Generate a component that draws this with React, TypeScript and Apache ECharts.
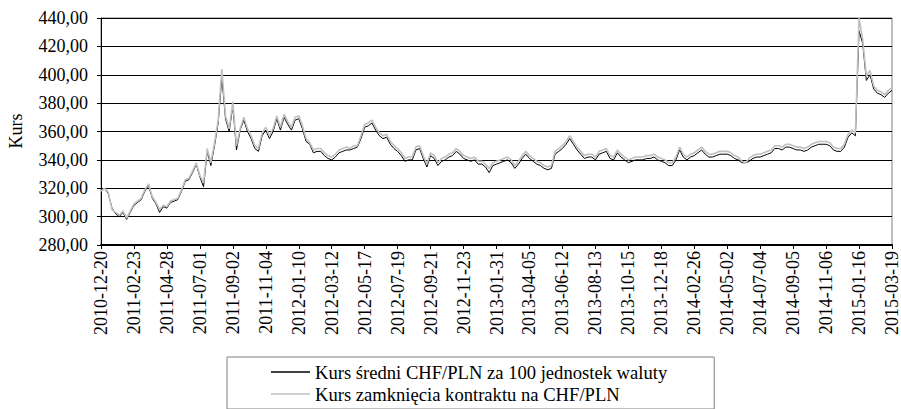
import React, { useEffect, useRef } from "react";
import * as echarts from "echarts";

const tickLabels: string[] = [
  "2010-12-20", "2011-02-23", "2011-04-28", "2011-07-01", "2011-09-02",
  "2011-11-04", "2012-01-10", "2012-03-12", "2012-05-17", "2012-07-19",
  "2012-09-21", "2012-11-23", "2013-01-31", "2013-04-05", "2013-06-12",
  "2013-08-13", "2013-10-15", "2013-12-18", "2014-02-26", "2014-05-02",
  "2014-07-04", "2014-09-05", "2014-11-06", "2015-01-16", "2015-03-19",
];

// weekly readings (9 per labelled interval)
const kursSredni: number[] = [
  317.5, 320, 316, 306, 302, 300, 303, 298, 303,
  308, 310, 312, 318, 322, 313, 309, 303, 307,
  306, 310, 311, 312, 318, 325, 326, 331, 337,
  328, 321, 346, 336, 350, 366, 398, 369, 360,
  378, 347, 361, 368, 360, 355, 348, 346, 357,
  361, 355, 360, 369, 361, 370, 365, 361, 368,
  369, 362, 353, 351, 345, 346, 346, 343, 341,
  340, 342, 345, 346, 347, 347, 348, 349, 355,
  363, 364, 366, 361, 357, 355, 356, 351, 348,
  346, 343, 339, 340, 340, 347, 348, 341, 335,
  343, 341, 336, 339, 340, 342, 343, 346, 344,
  341, 340, 339, 340, 337, 337, 335, 331, 336,
  337, 338, 339, 340, 338, 334, 337, 341, 344,
  341, 339, 337, 336, 334, 333, 334, 344, 346,
  348, 351, 355, 351, 347, 344, 341, 342, 342,
  340, 344, 345, 346, 341, 340, 345, 342, 340,
  338, 339, 340, 340, 340, 341, 341, 342, 340,
  339, 338, 336, 336, 340, 347, 342, 340, 342,
  343, 345, 347, 344, 342, 342, 343, 344, 344,
  344, 343, 341, 340, 338, 338, 339, 341, 342,
  342, 343, 344, 345, 348, 348, 347, 349, 349,
  348, 347, 347, 346, 347, 349, 350, 351, 351,
  351, 350, 347, 346, 346, 349, 356, 359, 357,
  431, 422, 396, 400, 390, 387, 386, 384, 387,
  389,
];

const kursZamkniecia: number[] = [
  318, 320, 317, 305, 303, 301, 304, 299, 304,
  309, 311, 313, 319, 323, 314, 310, 305, 308,
  307, 311, 312, 313, 319, 326, 327, 332, 338,
  329, 324, 348, 338, 352, 368, 404, 371, 362,
  381, 350, 362, 370, 362, 357, 350, 348, 359,
  363, 357, 362, 371, 363, 372, 367, 363, 370,
  371, 364, 355, 352, 347, 348, 348, 345, 343,
  342, 344, 347, 348, 349, 348, 350, 350, 357,
  365, 366, 368, 363, 359, 357, 358, 353, 350,
  348, 345, 341, 342, 342, 349, 350, 343, 337,
  345, 343, 338, 341, 342, 344, 345, 348, 346,
  343, 342, 341, 342, 339, 339, 337, 334, 338,
  339, 340, 341, 342, 340, 336, 339, 343, 346,
  343, 341, 339, 338, 336, 335, 336, 346, 348,
  350, 353, 357, 353, 349, 346, 343, 344, 344,
  342, 346, 347, 348, 343, 342, 347, 344, 342,
  340, 341, 342, 342, 342, 343, 343, 344, 342,
  341, 340, 338, 338, 342, 349, 344, 342, 344,
  345, 347, 349, 346, 344, 344, 345, 346, 346,
  346, 345, 343, 342, 339, 338, 341, 343, 344,
  344, 345, 346, 347, 350, 350, 349, 351, 351,
  350, 349, 349, 348, 349, 351, 352, 353, 353,
  353, 352, 349, 348, 348, 351, 358, 361, 359,
  440, 425, 399, 403, 392, 389, 388, 386, 389,
  391,
];

const seriesNames = [
  "Kurs średni CHF/PLN za 100 jednostek waluty",
  "Kurs zamknięcia kontraktu na CHF/PLN",
];

const PER_TICK = 9;
const FONT = '"Liberation Serif", "Times New Roman", serif';

export default function App() {
  const ref = useRef<HTMLDivElement>(null);

  useEffect(() => {
    if (!ref.current) return;
    const chart = echarts.init(ref.current, undefined, { renderer: "svg" });

    const categories: string[] = [];
    kursSredni.forEach((_, i) => {
      const t = Math.floor(i / PER_TICK);
      const k = i % PER_TICK;
      categories.push(k === 0 ? tickLabels[t] : `${tickLabels[t]} +${k}`);
    });

    chart.setOption({
      animation: false,
      backgroundColor: "#ffffff",
      textStyle: { fontFamily: FONT },
      grid: {
        left: 101,
        right: 7,
        top: 18,
        bottom: 164,
        show: true,
        borderColor: "#808080",
        borderWidth: 1,
        backgroundColor: "transparent",
      },
      xAxis: {
        type: "category",
        data: categories,
        boundaryGap: false,
        axisLine: { show: true, lineStyle: { color: "#000", width: 2 } },
        axisTick: { show: true, interval: PER_TICK - 1, length: 4, lineStyle: { color: "#000" } },
        axisLabel: {
          interval: PER_TICK - 1,
          rotate: 90,
          margin: 6,
          fontFamily: FONT,
          fontSize: 18,
          color: "#000",
          formatter: (v: string) => v.split(" ")[0],
        },
        splitLine: { show: false },
      },
      yAxis: {
        type: "value",
        min: 280,
        max: 440,
        interval: 20,
        axisLine: { show: true, lineStyle: { color: "#000", width: 1 } },
        axisTick: { show: true, length: 4, lineStyle: { color: "#000" } },
        axisLabel: {
          margin: 13,
          fontFamily: FONT,
          fontSize: 18,
          color: "#000",
          formatter: (v: number) => v.toFixed(2).replace(".", ","),
        },
        splitLine: { show: true, lineStyle: { color: "#000", width: 1 } },
      },
      legend: {
        orient: "vertical",
        left: 227,
        top: 357,
        padding: [5, 47, 5, 44],
        itemGap: 2,
        itemWidth: 39,
        itemHeight: 1.6,
        icon: "rect",
        borderColor: "#808080",
        borderWidth: 1,
        backgroundColor: "#fff",
        textStyle: { fontFamily: FONT, fontSize: 18.6, color: "#000", lineHeight: 20 },
        data: seriesNames,
      },
      graphic: [
        {
          type: "text",
          x: 16,
          y: 131,
          rotation: Math.PI / 2,
          style: {
            text: "Kurs",
            fontFamily: FONT,
            fontSize: 18,
            fill: "#000",
            align: "center",
            verticalAlign: "middle",
          },
        },
      ],
      series: [
        {
          name: seriesNames[0],
          type: "line",
          data: kursSredni,
          symbol: "none",
          lineStyle: { color: "#000", width: 1 },
          itemStyle: { color: "#000" },
          z: 2,
        },
        {
          name: seriesNames[1],
          type: "line",
          data: kursZamkniecia,
          symbol: "none",
          lineStyle: { color: "#c0c0c0", width: 1.6 },
          itemStyle: { color: "#c0c0c0" },
          z: 3,
        },
      ],
    });

    return () => chart.dispose();
  }, []);

  return (
    <div
      ref={ref}
      style={{ position: "fixed", left: 0, top: 0, width: 901, height: 409, background: "#fff" }}
    />
  );
}
